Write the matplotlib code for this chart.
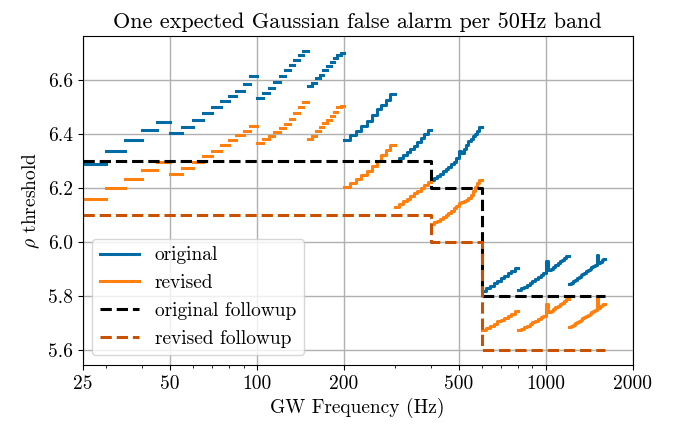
import numpy as np
import matplotlib
matplotlib.use("Agg")
import matplotlib.pyplot as plt
import matplotlib.ticker as ticker

plt.rcParams['font.family'] = ['cmr10', 'DejaVu Serif']
plt.rcParams['mathtext.fontset'] = 'cm'
plt.rcParams['axes.formatter.use_mathtext'] = True
plt.rcParams['font.size'] = 14

####################################################################################
# Data: thresholds per sub-band, grouped by analysis band

band_lo = [25, 50, 100, 150, 200, 300, 400, 600, 800, 1200]
band_hi = [50, 100, 150, 200, 300, 400, 600, 800, 1200, 1600]
band_step = [5, 5, 5, 5, 10, 10, 10, 20, 20, 20]

orig_rho = [
    [6.290, 6.336, 6.377, 6.414, 6.445],
    [6.402, 6.426, 6.452, 6.477, 6.499, 6.520, 6.541, 6.560, 6.583, 6.612],
    [6.533, 6.550, 6.568, 6.590, 6.615, 6.636, 6.656, 6.673, 6.690, 6.706],
    [6.575, 6.589, 6.605, 6.618, 6.637, 6.650, 6.667, 6.680, 6.690, 6.699],
    [6.378, 6.394, 6.412, 6.430, 6.449, 6.468, 6.490, 6.507, 6.525, 6.548],
    [6.301, 6.310, 6.320, 6.331, 6.343, 6.356, 6.369, 6.383, 6.398, 6.414],
    [6.230, 6.236, 6.245, 6.253, 6.262, 6.270, 6.279, 6.287, 6.296, 6.310,
     6.336, 6.330, 6.345, 6.360, 6.372, 6.382, 6.392, 6.401, 6.412, 6.425],
    [5.818, 5.828, 5.838, 5.847, 5.857, 5.866, 5.875, 5.884, 5.893, 5.902],
    [5.821, 5.828, 5.835, 5.842, 5.849, 5.856, 5.862, 5.869, 5.876, 5.884,
     5.930, 5.896, 5.901, 5.908, 5.915, 5.921, 5.928, 5.935, 5.941, 5.948],
    [5.845, 5.850, 5.855, 5.860, 5.865, 5.871, 5.876, 5.881, 5.886, 5.891,
     5.896, 5.901, 5.906, 5.911, 5.916, 5.950, 5.922, 5.927, 5.932, 5.937],
]

rev_rho = [
    [6.159, 6.198, 6.233, 6.265, 6.295],
    [6.250, 6.273, 6.296, 6.318, 6.338, 6.358, 6.376, 6.395, 6.411, 6.428],
    [6.366, 6.380, 6.393, 6.406, 6.420, 6.436, 6.455, 6.476, 6.498, 6.518],
    [6.380, 6.391, 6.410, 6.425, 6.440, 6.452, 6.467, 6.482, 6.499, 6.504],
    [6.205, 6.219, 6.233, 6.246, 6.262, 6.280, 6.298, 6.322, 6.340, 6.358],
    [6.131, 6.140, 6.150, 6.160, 6.170, 6.180, 6.190, 6.200, 6.210, 6.222],
    [6.068, 6.073, 6.079, 6.085, 6.092, 6.100, 6.108, 6.116, 6.125, 6.134,
     6.143, 6.148, 6.152, 6.157, 6.164, 6.172, 6.190, 6.205, 6.218, 6.230],
    [5.674, 5.682, 5.690, 5.698, 5.706, 5.713, 5.720, 5.728, 5.735, 5.743],
    [5.673, 5.679, 5.685, 5.691, 5.697, 5.703, 5.709, 5.715, 5.721, 5.727,
     5.772, 5.740, 5.746, 5.752, 5.758, 5.764, 5.770, 5.776, 5.782, 5.789],
    [5.685, 5.690, 5.694, 5.699, 5.703, 5.708, 5.712, 5.717, 5.721, 5.726,
     5.731, 5.735, 5.740, 5.744, 5.749, 5.795, 5.757, 5.762, 5.766, 5.771],
]

# followup thresholds (step edges)
followup_f = [25, 400, 600, 1600]
orig_followup = [6.3, 6.2, 5.8, 5.8]
rev_followup = [6.1, 6.0, 5.6, 5.6]

####################################################################################

def segments(rho_groups):
    # one horizontal piece per sub-band; fine sub-bands above 200 Hz drawn joined
    xs, ys = [], []
    for lo, hi, st, vals in zip(band_lo, band_hi, band_step, rho_groups):
        starts = np.arange(lo, hi, st)
        for s, v in zip(starts, vals):
            xs += [s, s + st]
            ys += [v, v]
            if st < 10:
                xs.append(np.nan)
                ys.append(np.nan)
        xs.append(np.nan)
        ys.append(np.nan)
    return np.array(xs), np.array(ys)

fig = plt.figure(figsize=(6.84, 4.3), dpi=100)
ax = fig.add_axes([0.121, 0.151, 0.804, 0.765])

x, y = segments(orig_rho)
ax.plot(x, y, color='#006BA4', lw=2.2, label='original')
x, y = segments(rev_rho)
ax.plot(x, y, color='#FF800E', lw=2.2, label='revised')

ax.plot(followup_f, orig_followup, drawstyle='steps-post', color='k', ls='--', lw=2.2,
        label='original followup')
ax.plot(followup_f, rev_followup, drawstyle='steps-post', color='#C85200', ls='--', lw=2.2,
        label='revised followup')

ax.set_xscale('log')
ax.set_xlim(25, 2000)
ax.xaxis.set_major_locator(ticker.FixedLocator([25, 50, 100, 200, 500, 1000, 2000]))
ax.xaxis.set_major_formatter(ticker.FixedFormatter(['25', '50', '100', '200', '500', '1000', '2000']))
ax.xaxis.set_minor_formatter(ticker.NullFormatter())
ax.yaxis.set_major_locator(ticker.MultipleLocator(0.2))
ax.yaxis.set_major_formatter(ticker.FormatStrFormatter('%.1f'))

ax.grid(True, which='major', color='#b0b0b0', lw=1)
ax.set_axisbelow(True)

ax.set_xlabel('GW Frequency (Hz)')
ax.set_ylabel(r'$\rho$ threshold')
ax.set_title('One expected Gaussian false alarm per 50Hz band', fontsize=16)
ax.legend(loc='lower left')

plt.savefig('out.png', dpi=100)
